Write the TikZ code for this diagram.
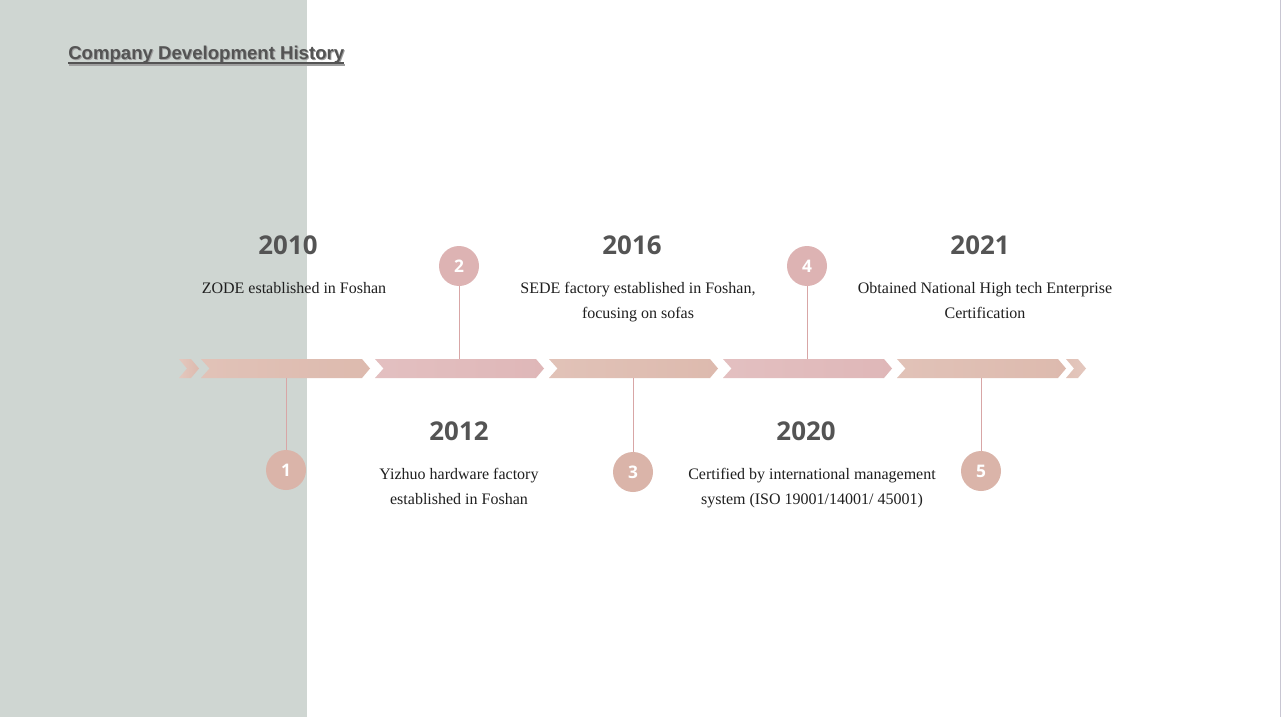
\documentclass[tikz,border=0pt]{standalone}
\usepackage{fontspec}
\setmainfont{Liberation Serif}
\newfontfamily\headfont{Liberation Sans}
\newfontfamily\yearfont{Open Sans}

\definecolor{panelgray}{HTML}{CFD6D2}
\definecolor{peach}{HTML}{DDBAAE}
\definecolor{rose}{HTML}{DFB7B8}
\definecolor{dotpeach}{HTML}{DAB4A9}
\definecolor{dotrose}{HTML}{DDB3B3}
\definecolor{stempink}{HTML}{D8A6A6}
\definecolor{textgray}{HTML}{545454}
\definecolor{edgegray}{HTML}{C8C6D2}

\tikzset{
  year/.style={font=\yearfont\bfseries\fontsize{19.4}{23}\selectfont, text=textgray},
  event/.style={font=\fontsize{12}{18.75}\selectfont, align=center, text=black!88},
  dot/.style={circle, minimum size=30pt, inner sep=0pt, text=white, font=\yearfont\bfseries\fontsize{13}{15}\selectfont},
  stem/.style={line width=0.7pt, stempink},
  heading/.style={font=\headfont\bfseries\fontsize{13.95}{16}\selectfont, anchor=base west, inner sep=0pt}
}

\begin{document}
\begin{tikzpicture}[x=0.75pt, y=-0.75pt]
\useasboundingbox (0,0) rectangle (1281,717);
\fill[white] (0,0) rectangle (1281,717);
\fill[panelgray] (0,0) rectangle (307,717);
\fill[edgegray] (1279.6,0) rectangle (1281,717);

% title with its shadow
\node[heading, text=gray!75] (titleshadow) at (69,61) {Company Development History};
\node[heading, text=textgray] (title) at (68,60) {Company Development History};
\draw[gray!75, line width=1.5pt] ([yshift=-3.2pt]titleshadow.base west) -- ([yshift=-3.2pt]titleshadow.base east);
\draw[textgray, line width=1.5pt] ([yshift=-2.5pt]title.base west) -- ([yshift=-2.5pt]title.base east);

% arrow bar
\shade[left color=peach!80!white, right color=peach] (179,359) -- (191,359) -- (199,368.5) -- (191,378) -- (179,378) -- (187,368.5) -- cycle;
\foreach \i/\c in {0/peach,1/rose,2/peach,3/rose,4/peach}{
  \pgfmathsetmacro\xa{201+174*\i}
  \shade[left color=\c!88!white, right color=\c] (\xa,359) -- ++(161,0) -- ++(8,9.5) -- ++(-8,9.5) -- ++(-161,0) -- ++(8.5,-9.5) -- cycle;
}
\shade[left color=peach!90!white, right color=peach!80!white] (1066,359) -- (1078,359) -- (1086,368.5) -- (1078,378) -- (1066,378) -- (1074,368.5) -- cycle;

% markers
\foreach \n/\x/\y/\c/\e in {1/286/470/dotpeach/378, 2/459/266/dotrose/359, 3/633/472/dotpeach/378, 4/807/266/dotrose/359, 5/981/471/dotpeach/378}{
  \coordinate (bar\n) at (\x,\e);
  \node[dot, fill=\c] (dot\n) at (\x,\y) {\n};
  \draw[stem] (dot\n) -- (bar\n);
}

% years
\node[year] (yr1) at (288,245.5) {2010};
\node[year] (yr2) at (459,431.5) {2012};
\node[year] (yr3) at (632,245.5) {2016};
\node[year] (yr4) at (806,431) {2020};
\node[year] (yr5) at (980,245.5) {2021};

% events
\node[event] (ev1) at (294,288.5) {ZODE established in Foshan};
\node[event] (ev2) at (459,486) {Yizhuo hardware factory\\established in Foshan};
\node[event] (ev3) at (638,302.5) {SEDE factory established in Foshan,\\focusing on sofas};
\node[event] (ev4) at (812,488) {Certified by international management\\system (ISO 19001/14001/ 45001)};
\node[event] (ev5) at (985,300.5) {Obtained National High tech Enterprise\\Certification};
\end{tikzpicture}
\end{document}
